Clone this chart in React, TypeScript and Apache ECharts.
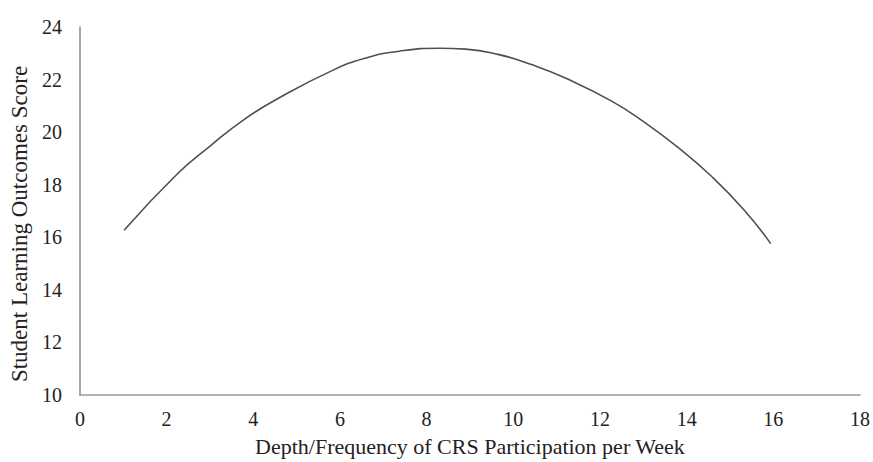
import React, { useEffect, useRef } from "react";
import * as echarts from "echarts";

const xValues = [1.02, 2.24, 3.01, 3.77, 4.54, 5.83, 6.6, 7.37, 8.29, 8.9, 9.67, 10.42, 11.2, 12.27, 13.03, 13.8, 14.56, 15.33, 15.94];
const scores = [16.27, 18.4, 19.48, 20.46, 21.25, 22.35, 22.82, 23.08, 23.19, 23.16, 22.95, 22.57, 22.06, 21.18, 20.37, 19.42, 18.34, 17.03, 15.76];
const xTitle = "Depth/Frequency of CRS Participation per Week";
const yTitle = "Student Learning Outcomes Score";

export default function App() {
  const ref = useRef<HTMLDivElement>(null);
  useEffect(() => {
    if (!ref.current) return;
    const chart = echarts.init(ref.current, null, { renderer: "svg" });
    const font = "Liberation Serif";
    chart.setOption({
      animation: false,
      backgroundColor: "#ffffff",
      grid: { left: 79, right: 10, top: 27, bottom: 67 },
      xAxis: {
        type: "value",
        min: 0,
        max: 18,
        interval: 2,
        name: xTitle,
        nameLocation: "middle",
        nameGap: 40,
        nameTextStyle: { fontFamily: font, fontSize: 22, color: "#222" },
        axisLine: { show: true, lineStyle: { color: "#9a9a9a", width: 1.5 } },
        axisTick: { show: false },
        splitLine: { show: false },
        axisLabel: { fontFamily: font, fontSize: 20, color: "#222", margin: 14 },
      },
      yAxis: {
        type: "value",
        min: 10,
        max: 24,
        interval: 2,
        name: yTitle,
        nameLocation: "middle",
        nameGap: 45,
        nameTextStyle: { fontFamily: font, fontSize: 23, color: "#222", padding: [0, 26, 0, 0] },
        axisLine: { show: true, lineStyle: { color: "#8a8a8a", width: 1.5 } },
        axisTick: { show: false },
        splitLine: { show: false },
        axisLabel: { fontFamily: font, fontSize: 20, color: "#222", margin: 18 },
      },
      series: [
        {
          type: "line",
          data: xValues.map((x, i) => [x, scores[i]]),
          smooth: true,
          showSymbol: false,
          lineStyle: { color: "#505050", width: 1.6 },
        },
      ],
    });
    return () => chart.dispose();
  }, []);
  return (
    <div
      ref={ref}
      style={{ position: "absolute", left: 0, top: 0, width: 873, height: 462 }}
    />
  );
}
